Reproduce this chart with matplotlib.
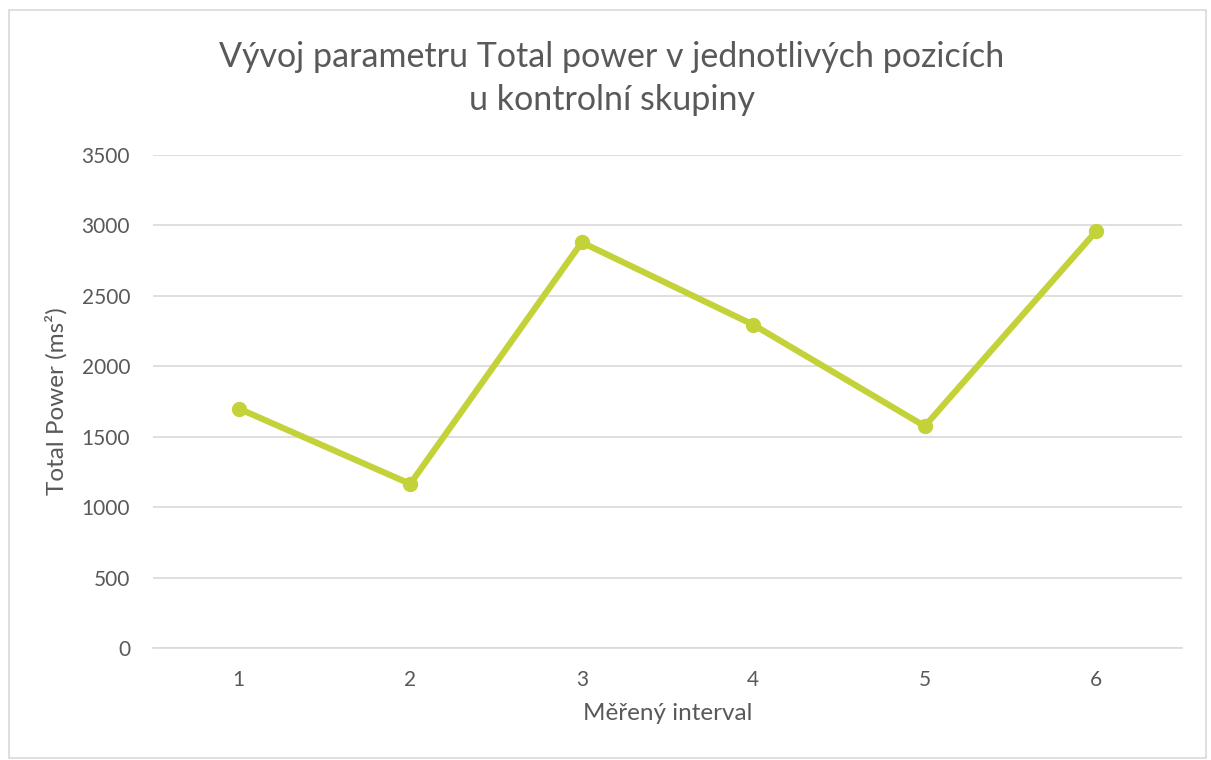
import matplotlib.pyplot as plt
from matplotlib.patches import Rectangle

intervals = ["1", "2", "3", "4", "5", "6"]
total_power = [1700, 1165, 2880, 2295, 1575, 2960]

LINE_COLOR = "#c4d23a"
TEXT_COLOR = "#595959"
GRID_COLOR = "#d9d9d9"

plt.rcParams["font.family"] = ["Lato", "DejaVu Sans"]

fig = plt.figure(figsize=(12.11, 7.6), dpi=100)
ax = fig.add_axes([0.1263, 0.1474, 0.8498, 0.6486])

x = range(len(intervals))
ax.plot(x, total_power, color=LINE_COLOR, linewidth=4.5, marker="o",
        markersize=10, solid_capstyle="round", zorder=3)

ax.set_xlim(-0.5, len(intervals) - 0.5)
ax.set_ylim(0, 3500)
ax.set_yticks(range(0, 3501, 500))
ax.set_xticks(list(x))
ax.set_xticklabels(intervals)
ax.yaxis.grid(True, color=GRID_COLOR, linewidth=1.2)
ax.set_axisbelow(True)
for side in ["top", "right", "left"]:
    ax.spines[side].set_visible(False)
ax.spines["bottom"].set_color(GRID_COLOR)
ax.spines["bottom"].set_linewidth(1.2)
ax.tick_params(length=0, labelsize=15, colors=TEXT_COLOR)
ax.tick_params(axis="y", pad=16.5)
ax.tick_params(axis="x", pad=16)

ax.set_xlabel("Měřený interval", fontsize=17.5, color=TEXT_COLOR, labelpad=9)
ax.set_ylabel("Total Power (ms²)", fontsize=17.5, color=TEXT_COLOR, labelpad=10)

fig.text(0.505, 0.897, "Vývoj parametru Total power v jednotlivých pozicích\nu kontrolní skupiny",
         ha="center", va="center", fontsize=24.5, color=TEXT_COLOR, linespacing=1.43)

# chart frame
fig.patches.append(Rectangle((0.0075, 0.003), 0.9885, 0.984, transform=fig.transFigure,
                             fill=False, edgecolor=GRID_COLOR, linewidth=1.2))

fig.savefig("out.png", dpi=100, facecolor="white")
